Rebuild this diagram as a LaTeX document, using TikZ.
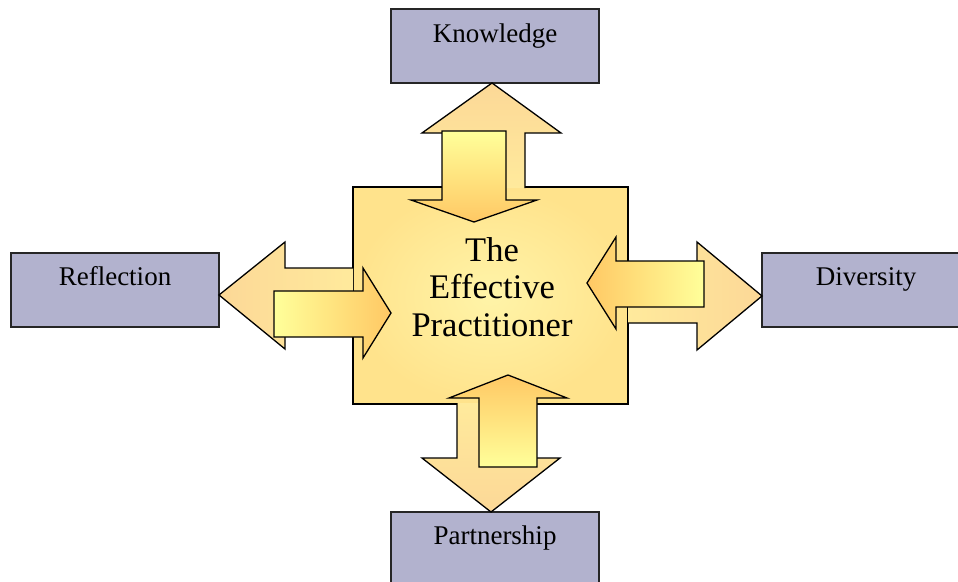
\documentclass[tikz,border=0pt]{standalone}
\usepackage{fontspec}
\setmainfont{Liberation Serif}
\definecolor{boxfill}{HTML}{B2B2CE}
\definecolor{outerlight}{HTML}{FFEA9C}
\definecolor{outertip}{HTML}{FCD897}
\definecolor{innertail}{HTML}{FFFF9A}
\definecolor{innerhead}{HTML}{FFC864}
\definecolor{ctrin}{HTML}{FFF4A8}
\definecolor{ctrout}{HTML}{FFE38C}
\tikzset{
  catbox/.style={draw=black!85, line width=1.3pt, fill=boxfill, minimum width=208pt, minimum height=74pt, inner sep=0pt},
  cattext/.style={anchor=base, inner sep=0pt, font=\fontsize{27}{30}\selectfont},
  outline/.style={draw=black, line width=1.3pt, line join=miter},
}
\begin{document}
\begin{tikzpicture}[x=1pt,y=-1pt]
\useasboundingbox (0,0) rectangle (958,581);
\clip (0,0) rectangle (958,581);

% category boxes
\node[catbox] (kn) at (495,46) {};
\node[catbox] (re) at (115,290) {};
\node[catbox] (di) at (866,290) {};
\node[catbox] (pa) at (495,549) {};

% centre box
\node[draw=black, line width=1.3pt, inner color=ctrin, outer color=ctrout,
      minimum width=275pt, minimum height=217pt, inner sep=0pt] (ctr) at (490.5,295.5) {};

% ---- top: outer up arrow (to Knowledge)
\shade[top color=outertip, bottom color=outerlight]
  (462,188) -- (462,133) -- (422,133) -- (492,83) -- (561,133) -- (525,133) -- (525,188) -- cycle;
\draw[outline] (462,188) -- (462,133) -- (422,133) -- (492,83) -- (561,133) -- (525,133) -- (525,188);
% top: inner down arrow
\shadedraw[outline, top color=innertail, bottom color=innerhead]
  (442,131) -- (506,131) -- (506,200) -- (537,200) -- (474,222) -- (411,200) -- (442,200) -- cycle;

% ---- left: outer arrow (to Reflection)
\shade[left color=outertip, right color=outerlight]
  (353,268) -- (285,268) -- (285,242) -- (219,295) -- (285,349) -- (285,322) -- (353,322) -- cycle;
\draw[outline] (353,268) -- (285,268) -- (285,242) -- (219,295) -- (285,349) -- (285,322) -- (353,322);
% left: inner right arrow
\shadedraw[outline, left color=innertail, right color=innerhead]
  (274,291) -- (363,291) -- (363,268) -- (391,313) -- (363,358) -- (363,337) -- (274,337) -- cycle;

% ---- right: outer arrow (to Diversity)
\shade[left color=outerlight, right color=outertip]
  (628,269) -- (697,269) -- (697,242) -- (762,296) -- (697,350) -- (697,323) -- (628,323) -- cycle;
\draw[outline] (628,269) -- (697,269) -- (697,242) -- (762,296) -- (697,350) -- (697,323) -- (628,323);
% right: inner left arrow
\shadedraw[outline, left color=innerhead, right color=innertail]
  (704,261) -- (616,261) -- (616,237) -- (587,283) -- (616,329) -- (616,307) -- (704,307) -- cycle;

% ---- bottom: outer down arrow (to Partnership)
\shade[top color=outerlight, bottom color=outertip]
  (457,403) -- (457,458) -- (422,458) -- (491,512) -- (560,458) -- (525,458) -- (525,403) -- cycle;
\draw[outline] (457,403) -- (457,458) -- (422,458) -- (491,512) -- (560,458) -- (525,458) -- (525,403);
% bottom: inner up arrow
\shadedraw[outline, top color=innerhead, bottom color=innertail]
  (479,467) -- (479,398) -- (449,398) -- (508,375) -- (567,398) -- (537,398) -- (537,467) -- cycle;

% texts
\node[cattext] (knt) at (495,42) {Knowledge};
\node[cattext] (ret) at (115,285) {Reflection};
\node[cattext] (dit) at (866,285) {Diversity};
\node[cattext] (pat) at (495,544) {Partnership};
\node[align=center, inner sep=0pt, font=\fontsize{34.5}{37.5}\selectfont] (ctrt) at (492,287) {The\\Effective\\Practitioner};
\end{tikzpicture}
\end{document}
